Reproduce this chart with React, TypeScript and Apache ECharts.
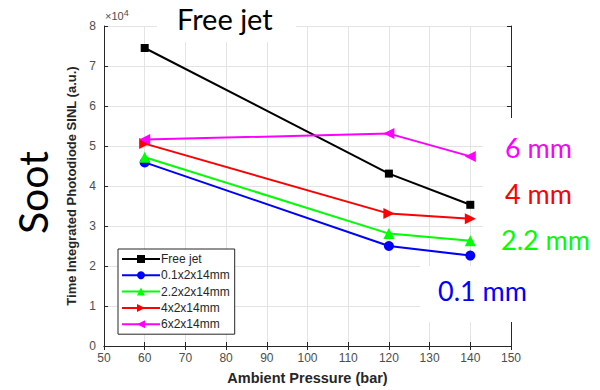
import React, { useEffect, useRef } from "react";
import * as echarts from "echarts";

const pressures = [60, 120, 140];
const freeJet = [74500, 43100, 35300];
const s01 = [45900, 25000, 22600];
const s22 = [47200, 28100, 26300];
const s4 = [50600, 33100, 31800];
const s6 = [51600, 53100, 47400];
const seriesNames = ["Free jet", "0.1x2x14mm", "2.2x2x14mm", "4x2x14mm", "6x2x14mm"];
const xTicks = { min: 50, max: 150, interval: 10 };
const yTicks = { min: 0, max: 80000, interval: 10000 };

const pair = (ys: number[]) => pressures.map((p, i) => [p, ys[i]]);

export default function App() {
  const ref = useRef<HTMLDivElement>(null);
  useEffect(() => {
    const chart = echarts.init(ref.current!, null, { renderer: "svg" });
    const axisFont = "'Liberation Sans', Arial, sans-serif";
    const bigFont = "Lato, 'Open Sans', sans-serif";
    const labelColor = "#4d4d4d";
    const mk = (name: string, data: number[], color: string, symbol: string, size: number, rot = 0) => ({
      name,
      type: "line",
      data: pair(data),
      symbol,
      symbolSize: size,
      symbolRotate: rot,
      lineStyle: { color, width: 2 },
      itemStyle: { color },
      z: 5,
    });
    chart.setOption({
      animation: false,
      backgroundColor: "#fff",
      grid: { left: 104, right: 89, top: 26, bottom: 43, show: false },
      xAxis: [
        {
          type: "value",
          ...xTicks,
          axisLine: { show: true, lineStyle: { color: "#262626" } },
          axisTick: { show: true, inside: true, length: 4, lineStyle: { color: "#262626" } },
          axisLabel: { color: labelColor, fontSize: 12, fontFamily: axisFont, margin: 6 },
          splitLine: { show: true, lineStyle: { color: "#e3e3e3" } },
          name: "Ambient Pressure (bar)",
          nameLocation: "middle",
          nameGap: 24,
          nameTextStyle: { fontWeight: "bold", fontSize: 14.5, color: "#262626", fontFamily: axisFont },
        },
        {
          type: "value",
          position: "top",
          ...xTicks,
          axisLine: { show: true, lineStyle: { color: "#262626" } },
          axisTick: { show: true, inside: true, length: 4, lineStyle: { color: "#262626" } },
          axisLabel: { show: false },
          splitLine: { show: false },
        },
      ],
      yAxis: [
        {
          type: "value",
          ...yTicks,
          axisLine: { show: true, lineStyle: { color: "#262626" } },
          axisTick: { show: true, inside: true, length: 4, lineStyle: { color: "#262626" } },
          axisLabel: {
            color: labelColor,
            fontSize: 12,
            fontFamily: axisFont,
            margin: 8,
            formatter: (v: number) => String(v / 10000),
          },
          splitLine: { show: true, lineStyle: { color: "#e3e3e3" } },
          name: "Time Integrated Photodiode SINL (a.u.)",
          nameLocation: "middle",
          nameGap: 18,
          nameTextStyle: { fontWeight: "bold", fontSize: 13, color: "#262626", fontFamily: axisFont },
        },
        {
          type: "value",
          position: "right",
          ...yTicks,
          axisLine: { show: true, lineStyle: { color: "#262626" } },
          axisTick: { show: true, inside: true, length: 4, lineStyle: { color: "#262626" } },
          axisLabel: { show: false },
          splitLine: { show: false },
        },
      ],
      legend: {
        orient: "vertical",
        left: 118,
        top: 249,
        itemWidth: 38,
        itemHeight: 10,
        itemGap: 4.3,
        padding: [4, 5, 4, 3],
        borderColor: "#262626",
        borderWidth: 1,
        backgroundColor: "#fff",
        borderRadius: 0,
        textStyle: { fontSize: 12, color: "#262626", fontFamily: axisFont, padding: [0, 0, 0, -4] },
        data: seriesNames,
      },
      series: [
        mk(seriesNames[0], freeJet, "#000000", "rect", 8),
        mk(seriesNames[1], s01, "#0000ff", "circle", 10),
        mk(seriesNames[2], s22, "#00ff00", "triangle", 11),
        mk(seriesNames[3], s4, "#ff0000", "triangle", 11, -90),
        mk(seriesNames[4], s6, "#ff00ff", "triangle", 11, 90),
      ],
      graphic: [
        { type: "rect", z: 100, shape: { x: 157, y: 6, width: 139, height: 36 }, style: { fill: "#fff" } },
        { type: "rect", z: 100, shape: { x: 483, y: 118, width: 117, height: 148 }, style: { fill: "#fff" } },
        { type: "rect", z: 100, shape: { x: 420, y: 266, width: 180, height: 56 }, style: { fill: "#fff" } },
        {
          type: "text", z: 101, left: 177, top: 4,
          style: { text: "Free jet", fontSize: 29, fontFamily: bigFont, fill: "#000" },
        },
        {
          type: "text", z: 101, left: 105, top: 8,
          style: {
            text: "×10{s|4}",
            fontSize: 11,
            fontFamily: axisFont,
            fill: labelColor,
            rich: { s: { fontSize: 9, verticalAlign: "top", fill: labelColor, padding: [0, 0, 6, 0] } },
          },
        },
        {
          type: "text", z: 101, left: 505, top: 134,
          style: { text: "6 mm", fontSize: 27, fontFamily: bigFont, fill: "#ff00ff" },
        },
        {
          type: "text", z: 101, left: 505, top: 180,
          style: { text: "4 mm", fontSize: 27, fontFamily: bigFont, fill: "#ff0000" },
        },
        {
          type: "text", z: 101, left: 501, top: 226,
          style: { text: "2.2 mm", fontSize: 27, fontFamily: bigFont, fill: "#00ff00" },
        },
        {
          type: "text", z: 101, left: 438, top: 277,
          style: { text: "0.1 mm", fontSize: 27, fontFamily: bigFont, fill: "#0000ff" },
        },
        {
          type: "text", z: 101, x: 12, y: 234, rotation: Math.PI / 2,
          style: { text: "Soot", fontSize: 41, fontFamily: bigFont, fill: "#000" },
        },
      ],
    });
    return () => chart.dispose();
  }, []);
  return <div ref={ref} style={{ width: 600, height: 390, position: "absolute", left: 0, top: 0 }} />;
}
